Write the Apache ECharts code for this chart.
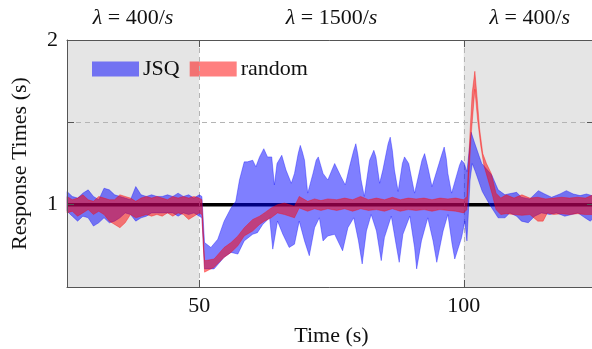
<!DOCTYPE html>
<html>
<head>
<meta charset="utf-8">
<script src="https://cdn.jsdelivr.net/npm/echarts@6/dist/echarts.min.js"></script>
<style>
  html, body { margin: 0; padding: 0; background: #fff; }
  #chart { width: 592px; height: 349px; }
</style>
</head>
<body>
<div id="chart"></div>
<script>
// boundaries of the bands, [time (s), response time (s)]
const jsqUpper = [
  [25,1.08],[26,1.05],[27,1.04],[28,1.07],[29,1.09],[30,1.05],[31,1.03],[32,1.10],[33,1.09],[34,1.06],
  [35,1.05],[36,1.04],[37,1.03],[38,1.11],[39,1.06],[40,1.05],[41,1.06],[42,1.05],[43,1.05],[44,1.06],
  [45,1.05],[46,1.07],[47,1.05],[48,1.06],[49,1.04],[50,1.06],[50.5,1.05],
  [51,0.77],[52.2,0.74],[53.5,0.79],[54.7,0.90],[56,0.98],[56.9,1.02],[57.6,1.15],[58.5,1.26],[59.1,1.26],
  [60.1,1.27],[60.7,1.23],[61.4,1.29],[62.2,1.34],[62.9,1.29],[63.7,1.29],[64.2,1.12],[64.7,1.25],[65.6,1.30],
  [66.4,1.21],[67.4,1.13],[68,1.19],[68.7,1.31],[69.1,1.36],[69.5,1.32],[69.9,1.27],[70.5,1.07],[71.5,1.19],
  [72.1,1.27],[72.5,1.29],[73.4,1.19],[74.3,1.15],[75.2,1.22],[75.6,1.25],[76.8,1.17],[77.6,1.12],[78.4,1.23],
  [79.2,1.33],[79.6,1.37],[80,1.30],[80.6,1.15],[81.2,1.05],[82.2,1.27],[83,1.33],[83.4,1.29],[84.1,1.13],
  [84.7,1.21],[85.7,1.37],[86.1,1.41],[86.5,1.33],[86.9,1.21],[87.6,1.08],[88.4,1.25],[88.8,1.29],[89.6,1.25],
  [90.7,1.07],[92.1,1.27],[92.6,1.31],[93.2,1.23],[94,1.11],[95.8,1.30],[96.3,1.35],[96.7,1.28],[97,1.19],
  [97.7,1.07],[99.2,1.24],[99.6,1.27],[100.1,1.25],[100.6,1.20],
  [101.4,1.44],[102,1.38],[103.4,1.25],[105.3,1.18],[106.5,1.09],[107.8,1.06],[108.4,1.065],[110,1.075],
  [110.9,1.045],[112.5,1.035],[114.1,1.085],[115.3,1.065],[116.6,1.045],[118.2,1.065],[119.4,1.085],
  [120.7,1.065],[122,1.055],[123.2,1.065],[124.2,1.055],[125,1.06]
];
const jsqLower = [
  [25,0.96],[26,0.93],[27,0.90],[28,0.93],[29,0.92],[30,0.87],[31,0.89],[32,0.92],[33,0.89],[34,0.90],
  [35,0.92],[36,0.95],[37,0.94],[38,0.90],[39,0.92],[40,0.93],[41,0.95],[42,0.95],[43,0.95],[44,0.95],
  [45,0.95],[46,0.93],[47,0.95],[48,0.94],[49,0.95],[50,0.93],[50.5,0.92],
  [51,0.61],[52.8,0.61],[54.7,0.68],[56,0.71],[57.3,0.70],[58.5,0.78],[60.1,0.82],[61,0.83],[62,0.88],
  [63.3,0.92],[63.9,0.73],[64.8,0.90],[65.8,0.82],[67,0.74],[68,0.76],[68.9,0.90],[69.9,0.78],[70.8,0.69],
  [71.8,0.86],[72.7,0.92],[73.4,0.78],[74.3,0.81],[75.6,0.82],[77.1,0.72],[78.1,0.86],[79.2,0.92],[80.1,0.78],
  [80.8,0.64],[81.6,0.84],[82.5,0.94],[83.5,0.84],[84.4,0.66],[85,0.80],[86.3,0.93],[87.2,0.76],[87.8,0.65],
  [88.5,0.82],[89.8,0.93],[90.7,0.74],[91.1,0.61],[92,0.78],[93.2,0.92],[94.2,0.78],[94.9,0.65],[96.1,0.84],
  [97,0.94],[97.8,0.76],[98.3,0.67],[99.6,0.80],[100.2,0.90],[100.6,0.78],
  [101.2,1.15],[101.6,1.25],[102.2,1.20],[103.5,1.08],[104.9,1.00],[106.5,0.92],[107.8,0.92],[108.7,0.95],
  [110,0.93],[110.9,0.90],[112.2,0.89],[113.4,0.93],[114.7,0.95],[116.3,0.94],[117.5,0.95],[119.1,0.93],
  [120.4,0.94],[121.6,0.95],[122.9,0.92],[123.9,0.90],[125,0.93]
];
const randomUpper = [
  [25,1.05],[26,1.03],[27,1.04],[28,1.06],[29,1.03],[30,1.02],[31,1.05],[32,1.04],[33,1.03],[34,1.03],
  [35,1.06],[36,1.05],[37,1.04],[38,1.02],[39,1.04],[40,1.05],[41,1.04],[42,1.05],[43,1.04],[44,1.03],
  [45,1.05],[46,1.04],[47,1.05],[48,1.04],[49,1.05],[50,1.04],[50.5,1.03],
  [51,0.66],[52.8,0.67],[54.7,0.74],[56,0.77],[57.3,0.81],[58.5,0.86],[60.1,0.91],[61.4,0.93],[62.3,0.95],
  [63.6,0.98],[64.8,1.00],[66.1,1.01],[68,0.99],[68.9,1.05],[70.5,1.02],[71.8,1.035],[73,1.025],[74.3,1.035],
  [76,1.03],[77.5,1.04],[79,1.03],[80.5,1.05],[82,1.03],[83.5,1.04],[85,1.03],[86.5,1.045],[88,1.03],
  [89.5,1.04],[91,1.035],[92.5,1.04],[94,1.03],[95.5,1.04],[97,1.035],[98.5,1.04],[100,1.03],[100.6,1.05],
  [101.2,1.45],[101.6,1.68],[102.1,1.81],[102.5,1.66],[103,1.46],[103.6,1.31],[104.3,1.25],[105.2,1.19],
  [106.1,1.07],[107,1.04],[108,1.06],[109.5,1.04],[111,1.06],[112.5,1.04],[114,1.045],[115.5,1.035],
  [117,1.04],[118.5,1.045],[120,1.04],[121.5,1.045],[123,1.04],[124.5,1.06],[125,1.05]
];
const randomLower = [
  [25,0.95],[26,0.96],[27,0.93],[28,0.95],[29,0.97],[30,0.94],[31,0.96],[32,0.94],[33,0.90],[34,0.88],
  [35,0.86],[36,0.89],[37,0.94],[38,0.92],[39,0.93],[40,0.94],[41,0.93],[42,0.94],[43,0.93],[44,0.95],
  [45,0.93],[46,0.95],[47,0.94],[48,0.91],[49,0.93],[50,0.95],[50.5,0.94],
  [51,0.59],[52.8,0.62],[54.7,0.68],[56,0.71],[57.3,0.75],[58.5,0.81],[60.1,0.84],[61.4,0.88],[62.3,0.90],
  [63.6,0.92],[64.8,0.95],[66.1,0.94],[68,0.92],[68.9,0.98],[70.5,0.96],[71.8,0.975],[73,0.965],[74.3,0.975],
  [76,0.965],[77.5,0.975],[79,0.96],[80.5,0.975],[82,0.965],[83.5,0.97],[85,0.96],[86.5,0.975],[88,0.96],
  [89.5,0.97],[91,0.965],[92.5,0.97],[94,0.96],[95.5,0.97],[97,0.965],[98.5,0.96],[100,0.95],[100.6,0.97],
  [101.4,1.42],[102.1,1.70],[102.6,1.52],[103.2,1.36],[103.8,1.24],[104.6,1.15],[105.4,1.06],[106.1,0.97],
  [107,0.94],[108,0.945],[109.5,0.94],[111,0.935],[112.5,0.94],[114,0.90],[115,0.90],[115.8,0.95],
  [117,0.94],[118.5,0.945],[120,0.94],[121.5,0.945],[123,0.94],[124.5,0.94],[125,0.94]
];
const referenceLine = [[25, 1], [125, 1]];
const shadedRanges = [[25, 50], [100, 125]];
const phaseCenters = [37.5, 75, 112.5];
const phaseRates = ['400', '1500', '400'];
const xTicks = [50, 100];
const yTicks = [1, 1.5, 2];
const yLabels = [1, 2];

const FONT = '"Liberation Serif", "DejaVu Serif", serif';
const BLUE = 'rgba(0,0,255,0.5)';
const RED = 'rgba(255,0,0,0.5)';
const AXIS = '#555';

function band(upper, lower, color) {
  return function (params, api) {
    const pts = upper.map((p) => api.coord(p))
      .concat(lower.slice().reverse().map((p) => api.coord(p)));
    return {
      type: 'polygon',
      shape: { points: pts },
      style: { fill: color, stroke: color, lineWidth: 0.7 }
    };
  };
}

const chart = echarts.init(document.getElementById('chart'), null, { renderer: 'canvas' });

const boxAxis = {
  axisLine: { show: true, lineStyle: { color: AXIS, width: 1 } },
  splitLine: { show: false },
  z: 10
};

chart.setOption({
  animation: false,
  textStyle: { fontFamily: FONT },
  grid: { left: 67, top: 40, right: -4, bottom: 62, outerBoundsMode: 'none', containLabel: false },
  legend: {
    data: ['JSQ', 'random'],
    left: 87,
    top: 53,
    icon: 'rect',
    itemWidth: 47,
    itemHeight: 15,
    itemGap: 10,
    textStyle: { fontFamily: FONT, fontSize: 22, color: '#111', padding: [0, 0, 0, -1] }
  },
  xAxis: [
    {
      ...boxAxis,
      type: 'value', min: 25, max: 125,
      name: 'Time (s)', nameLocation: 'middle', nameGap: 38,
      nameTextStyle: { fontFamily: FONT, fontSize: 22, color: '#111' },
      axisTick: { inside: true, length: 7, customValues: xTicks, lineStyle: { color: AXIS } },
      axisLabel: { customValues: xTicks, fontFamily: FONT, fontSize: 22, color: '#111', margin: 8 }
    },
    {
      ...boxAxis,
      type: 'value', min: 25, max: 125, position: 'top',
      axisTick: { inside: true, length: 7, customValues: xTicks, lineStyle: { color: AXIS } },
      axisLabel: { show: false }
    }
  ],
  yAxis: [
    {
      ...boxAxis,
      type: 'value', min: 0.5, max: 2,
      name: 'Response Times (s)', nameLocation: 'middle', nameGap: 36,
      nameTextStyle: { fontFamily: FONT, fontSize: 22, color: '#111' },
      axisTick: { inside: true, length: 7, customValues: yTicks, lineStyle: { color: AXIS } },
      axisLabel: { customValues: yLabels, fontFamily: FONT, fontSize: 22, color: '#111', margin: 9 }
    },
    {
      ...boxAxis,
      type: 'value', min: 0.5, max: 2, position: 'right',
      axisTick: { inside: true, length: 9, customValues: yTicks, lineStyle: { color: AXIS } },
      axisLabel: { show: false }
    }
  ],
  series: [
    {
      name: 'background',
      type: 'line',
      data: [],
      silent: true,
      z: 0,
      markArea: {
        silent: true,
        itemStyle: { color: '#e5e5e5' },
        data: shadedRanges.map((r) => [{ xAxis: r[0] }, { xAxis: r[1] }])
      },
      markLine: {
        silent: true,
        symbol: 'none',
        label: { show: false },
        lineStyle: { color: '#b4b4b4', type: [5, 4], width: 1 },
        data: [{ xAxis: 50 }, { xAxis: 100 }, { yAxis: 1.5 }]
      }
    },
    {
      name: 'reference',
      type: 'line',
      data: referenceLine,
      showSymbol: false,
      silent: true,
      z: 2,
      lineStyle: { color: '#000', width: 3.5 }
    },
    {
      name: 'JSQ',
      type: 'custom',
      renderItem: band(jsqUpper, jsqLower, BLUE),
      data: [[25, 1]],
      itemStyle: { color: BLUE },
      silent: true,
      z: 5
    },
    {
      name: 'random',
      type: 'custom',
      renderItem: band(randomUpper, randomLower, RED),
      data: [[25, 1]],
      itemStyle: { color: RED },
      silent: true,
      z: 6
    }
  ]
});

// phase labels above the plot
chart.setOption({
  graphic: phaseCenters.map((t, i) => ({
    type: 'text',
    x: chart.convertToPixel({ xAxisIndex: 0 }, t),
    y: 18,
    style: {
      text: '{i|λ} = ' + phaseRates[i] + '/{i|s}',
      font: '22px ' + FONT,
      fill: '#111',
      align: 'center',
      verticalAlign: 'middle',
      rich: { i: { fontStyle: 'italic', fontSize: 22, fontFamily: FONT } }
    }
  }))
});
</script>
</body>
</html>
